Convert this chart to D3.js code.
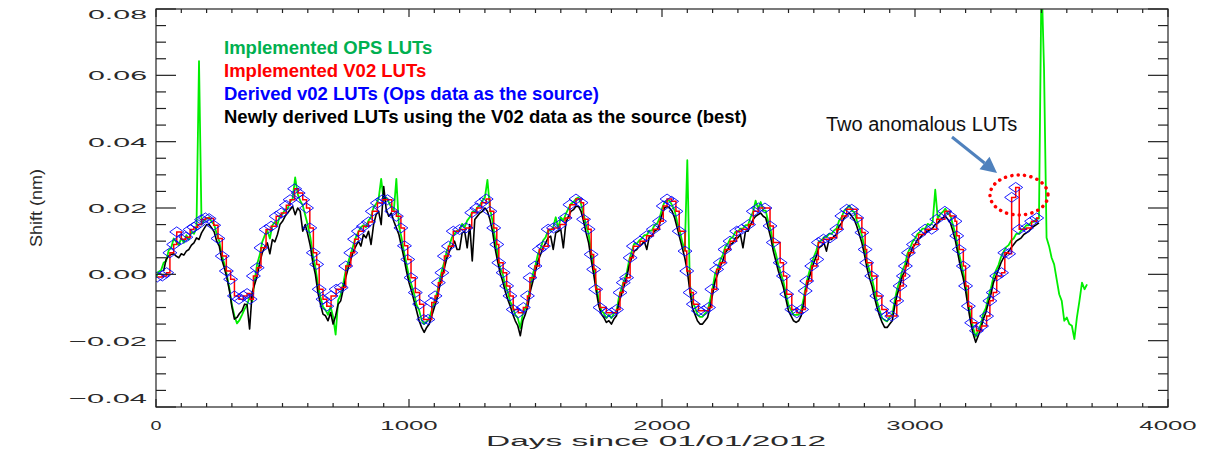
<!DOCTYPE html>
<html>
<head>
<meta charset="utf-8">
<script src="https://cdn.jsdelivr.net/npm/d3@7"></script>
<style>
  html, body { margin: 0; padding: 0; background: #fff; }
  svg { display: block; }
</style>
</head>
<body>
<svg id="chart" width="1214" height="453"></svg>
<script>
// ---- axis ticks ----
const yTickValues = [-0.04, -0.02, 0.00, 0.02, 0.04, 0.06, 0.08];
const yTickLabels = ["\u22120.04", "\u22120.02", "0.00", "0.02", "0.04", "0.06", "0.08"];
const xTickValues = [0, 1000, 2000, 3000, 4000];
const xTickLabels = ["0", "1000", "2000", "3000", "4000"];

// ---- legend entries ----
const seriesNames = [
  "Implemented OPS LUTs",
  "Implemented V02 LUTs",
  "Derived v02 LUTs (Ops data as the source)",
  "Newly derived LUTs using the V02 data as the source (best)"
];

// ---- derived v02 LUTs: day of each LUT and its wavelength shift (nm) ----
const lutDays = [
  5, 25, 42, 55, 70, 82, 100, 118, 135, 150,
  165, 180, 195, 210, 228, 245, 262, 278, 295, 310,
  328, 345, 360, 372, 385, 400, 415, 435, 455, 475,
  495, 515, 530, 548, 562, 580, 595, 608, 622, 635,
  645, 660, 675, 692, 712, 732, 750, 770, 785, 800,
  820, 840, 855, 875, 895, 915, 932, 950, 968, 982,
  995, 1008, 1025, 1042, 1058, 1075, 1090, 1103, 1116, 1130,
  1140, 1156, 1175, 1200, 1225, 1248, 1268, 1287, 1305, 1320,
  1335, 1347, 1355, 1372, 1386, 1399, 1412, 1432, 1452, 1468,
  1478, 1498, 1515, 1531, 1550, 1571, 1597, 1617, 1636, 1660,
  1680, 1690, 1708, 1720, 1730, 1738, 1755, 1780, 1800, 1820,
  1834, 1847, 1860, 1874, 1887, 1913, 1939, 1966, 1990, 2005,
  2020, 2038, 2055, 2068, 2091, 2098, 2111, 2124, 2144, 2164,
  2184, 2197, 2216, 2230, 2249, 2269, 2295, 2315, 2342, 2361,
  2381, 2407, 2427, 2440, 2467, 2480, 2493, 2513, 2533, 2552,
  2566, 2572, 2592, 2612, 2618, 2638, 2664, 2691, 2711, 2730,
  2750, 2770, 2790, 2803, 2809, 2829, 2849, 2869, 2888, 2908,
  2928, 2941, 2954, 2962, 2974, 2994, 3014, 3040, 3066, 3086,
  3118, 3138, 3158, 3165, 3175, 3191, 3200, 3211, 3224, 3243,
  3263, 3283, 3296, 3309, 3323, 3342, 3355, 3370, 3382, 3398,
  3412, 3441, 3461, 3481
];
const lutShift = [
  -0.0008, -0.0005, 0.0005, 0.0065, 0.0090, 0.0128, 0.0106, 0.0112, 0.0135, 0.0142,
  0.0150, 0.0165, 0.0170, 0.0168, 0.0148, 0.0108, 0.0055, 0.0010, -0.0015, -0.0065,
  -0.0075, -0.0065, -0.0058, -0.0075, -0.0005, 0.0020, 0.0080, 0.0135, 0.0145, 0.0175,
  0.0185, 0.0208, 0.0225, 0.0258, 0.0245, 0.0225, 0.0200, 0.0140, 0.0065, 0.0030,
  -0.0045, -0.0075, -0.0096, -0.0065, -0.0045, -0.0040, 0.0025, 0.0065, 0.0106, 0.0130,
  0.0145, 0.0158, 0.0190, 0.0215, 0.0225, 0.0225, 0.0190, 0.0175, 0.0140, 0.0086,
  0.0045, -0.0010, -0.0055, -0.0090, -0.0136, -0.0136, -0.0085, -0.0065, -0.0025, 0.0005,
  0.0055, 0.0085, 0.0130, 0.0135, 0.0140, 0.0186, 0.0200, 0.0216, 0.0227, 0.0190,
  0.0140, 0.0090, 0.0035, 0.0005, -0.0035, -0.0065, -0.0106, -0.0116, -0.0100, -0.0065,
  -0.0010, 0.0025, 0.0075, 0.0085, 0.0136, 0.0140, 0.0150, 0.0170, 0.0210, 0.0227,
  0.0216, 0.0166, 0.0136, 0.0060, 0.0015, -0.0045, -0.0100, -0.0116, -0.0116, -0.0106,
  -0.0055, -0.0025, -0.0010, 0.0050, 0.0085, 0.0100, 0.0116, 0.0136, 0.0160, 0.0206,
  0.0227, 0.0220, 0.0190, 0.0130, 0.0070, 0.0010, -0.0055, -0.0090, -0.0110, -0.0110,
  -0.0100, -0.0045, 0.0015, 0.0035, 0.0075, 0.0100, 0.0130, 0.0136, 0.0150, 0.0190,
  0.0200, 0.0200, 0.0146, 0.0096, 0.0035, -0.0005, -0.0060, -0.0106, -0.0116, -0.0106,
  -0.0050, -0.0020, 0.0025, 0.0045, 0.0096, 0.0106, 0.0110, 0.0136, 0.0176, 0.0196,
  0.0196, 0.0170, 0.0126, 0.0075, 0.0035, -0.0005, -0.0065, -0.0106, -0.0126, -0.0126,
  -0.0080, -0.0035, -0.0005, 0.0025, 0.0065, 0.0090, 0.0120, 0.0136, 0.0136, 0.0166,
  0.0190, 0.0176, 0.0160, 0.0116, 0.0075, 0.0025, -0.0035, -0.0096, -0.0146, -0.0170,
  -0.0156, -0.0126, -0.0080, -0.0055, -0.0005, 0.0005, 0.0065, 0.0062, 0.0232, 0.0262,
  0.0136, 0.0140, 0.0160, 0.0170
];
// last day the implemented V02 LUT stays in use
const v02LastDay = 3490;

// ---- implemented OPS LUTs, sampled every 10 days from day 0 ----
const opsFirstDay = 0;
const opsShift = [
  -0.0010, 0.0008, 0.0012, 0.0035, 0.0040, 0.0072, 0.0080, 0.0108, 0.0098, 0.0088,
  0.0110, 0.0095, 0.0118, 0.0105, 0.0128, 0.0122, 0.0140, 0.0643, 0.0150, 0.0162,
  0.0168, 0.0172, 0.0158, 0.0150, 0.0122, 0.0100, 0.0058, 0.0032, -0.0002, -0.0042,
  -0.0092, -0.0125, -0.0148, -0.0138, -0.0122, -0.0105, -0.0092, -0.0068, -0.0082, -0.0018,
  0.0032, 0.0058, 0.0098, 0.0118, 0.0132, 0.0108, 0.0148, 0.0158, 0.0150, 0.0178,
  0.0182, 0.0195, 0.0198, 0.0218, 0.0228, 0.0292, 0.0242, 0.0222, 0.0208, 0.0178,
  0.0148, 0.0112, 0.0058, 0.0022, -0.0032, -0.0068, -0.0098, -0.0108, -0.0122, -0.0098,
  -0.0128, -0.0182, -0.0078, -0.0062, -0.0028, 0.0012, 0.0038, 0.0062, 0.0088, 0.0112,
  0.0128, 0.0142, 0.0148, 0.0142, 0.0162, 0.0172, 0.0202, 0.0212, 0.0228, 0.0288,
  0.0222, 0.0232, 0.0218, 0.0202, 0.0192, 0.0288, 0.0148, 0.0112, 0.0068, 0.0032,
  -0.0008, -0.0032, -0.0058, -0.0092, -0.0108, -0.0138, -0.0150, -0.0142, -0.0132, -0.0108,
  -0.0082, -0.0058, -0.0022, 0.0012, 0.0038, 0.0072, 0.0088, 0.0112, 0.0122, 0.0132,
  0.0132, 0.0152, 0.0142, 0.0162, 0.0172, 0.0188, 0.0188, 0.0202, 0.0208, 0.0222,
  0.0232, 0.0285, 0.0198, 0.0162, 0.0108, 0.0062, 0.0018, 0.0002, -0.0032, -0.0052,
  -0.0082, -0.0098, -0.0122, -0.0132, -0.0162, -0.0118, -0.0102, -0.0078, -0.0032, 0.0002,
  0.0028, 0.0062, 0.0078, 0.0102, 0.0112, 0.0132, 0.0132, 0.0142, 0.0172, 0.0138,
  0.0172, 0.0162, 0.0182, 0.0198, 0.0212, 0.0218, 0.0228, 0.0232, 0.0212, 0.0182,
  0.0148, 0.0122, 0.0068, 0.0022, -0.0032, -0.0078, -0.0108, -0.0118, -0.0132, -0.0122,
  -0.0132, -0.0118, -0.0112, -0.0068, -0.0042, -0.0018, 0.0002, 0.0042, 0.0068, 0.0092,
  0.0092, 0.0102, 0.0108, 0.0118, 0.0118, 0.0132, 0.0132, 0.0148, 0.0152, 0.0168,
  0.0198, 0.0218, 0.0222, 0.0222, 0.0208, 0.0192, 0.0158, 0.0132, 0.0098, 0.0072,
  0.0344, -0.0028, -0.0082, -0.0098, -0.0122, -0.0128, -0.0128, -0.0118, -0.0112, -0.0078,
  -0.0042, 0.0002, 0.0018, 0.0042, 0.0058, 0.0082, 0.0092, 0.0108, 0.0112, 0.0128,
  0.0128, 0.0138, 0.0138, 0.0148, 0.0148, 0.0172, 0.0188, 0.0222, 0.0198, 0.0218,
  0.0192, 0.0192, 0.0158, 0.0132, 0.0088, 0.0062, 0.0028, 0.0002, -0.0022, -0.0058,
  -0.0092, -0.0108, -0.0122, -0.0122, -0.0122, -0.0108, -0.0072, -0.0028, 0.0002, 0.0028,
  0.0052, 0.0072, 0.0098, 0.0102, 0.0112, 0.0112, 0.0122, 0.0122, 0.0132, 0.0138,
  0.0162, 0.0172, 0.0192, 0.0198, 0.0208, 0.0192, 0.0188, 0.0162, 0.0142, 0.0118,
  0.0082, 0.0038, 0.0012, -0.0012, -0.0048, -0.0082, -0.0108, -0.0132, -0.0138, -0.0142,
  -0.0128, -0.0122, -0.0078, -0.0042, -0.0018, 0.0012, 0.0028, 0.0062, 0.0078, 0.0098,
  0.0108, 0.0122, 0.0128, 0.0138, 0.0138, 0.0152, 0.0148, 0.0158, 0.0255, 0.0168,
  0.0182, 0.0188, 0.0198, 0.0182, 0.0178, 0.0148, 0.0122, 0.0078, 0.0042, 0.0008,
  -0.0032, -0.0082, -0.0128, -0.0162, -0.0188, -0.0168, -0.0152, -0.0118, -0.0102, -0.0068,
  -0.0042, -0.0008, 0.0012, 0.0028, 0.0052, 0.0068, 0.0082, 0.0088, 0.0102, 0.0108,
  0.0122, 0.0122, 0.0132, 0.0138, 0.0148, 0.0148, 0.0158, 0.0158, 0.0168, 0.0168,
  0.0900, 0.0620, 0.0110, 0.0085, 0.0050, 0.0030, -0.0015, -0.0060, -0.0080, -0.0140,
  -0.0130, -0.0150, -0.0155, -0.0195, -0.0130, -0.0080, -0.0025, -0.0045, -0.0030
];

// ---- newly derived LUTs (V02 source), sampled every 10 days from day 30 ----
const newFirstDay = 30;
const newShift = [
  0.0010, 0.0045, 0.0055, 0.0060, 0.0062, 0.0055, 0.0050,
  0.0062, 0.0058, 0.0070, 0.0075, 0.0088, 0.0095, 0.0110, 0.0105, 0.0125, 0.0138,
  0.0150, 0.0150, 0.0140, 0.0128, 0.0100, 0.0085, 0.0045, 0.0020, -0.0010, -0.0048,
  -0.0098, -0.0135, -0.0130, -0.0118, -0.0110, -0.0090, -0.0092, -0.0165, -0.0055, -0.0030,
  -0.0005, 0.0035, 0.0065, 0.0082, 0.0095, 0.0062, 0.0105, 0.0098, 0.0120, 0.0150,
  0.0160, 0.0175, 0.0185, 0.0195, 0.0205, 0.0180, 0.0200, 0.0190, 0.0130, 0.0150,
  0.0120, 0.0085, 0.0035, 0.0000, -0.0055, -0.0090, -0.0120, -0.0125, -0.0140, -0.0115,
  -0.0150, -0.0125, -0.0090, -0.0080, -0.0045, -0.0010, 0.0020, 0.0045, 0.0070, 0.0085,
  0.0100, 0.0085, 0.0120, 0.0110, 0.0130, 0.0090, 0.0150, 0.0180, 0.0190, 0.0150,
  0.0265, 0.0195, 0.0175, 0.0185, 0.0160, 0.0140, 0.0120, 0.0085, 0.0050, 0.0010,
  -0.0025, -0.0050, -0.0080, -0.0110, -0.0140, -0.0160, -0.0175, -0.0160, -0.0150, -0.0125,
  -0.0100, -0.0075, -0.0040, -0.0010, 0.0020, 0.0050, 0.0070, 0.0085, 0.0100, 0.0075,
  0.0075, 0.0125, 0.0130, 0.0080, 0.0150, 0.0040, 0.0165, 0.0175, 0.0185, 0.0190,
  0.0200, 0.0190, 0.0165, 0.0130, 0.0080, 0.0040, 0.0005, -0.0020, -0.0050, -0.0075,
  -0.0095, -0.0120, -0.0140, -0.0155, -0.0185, -0.0140, -0.0120, -0.0095, -0.0050, -0.0020,
  0.0010, 0.0040, 0.0060, 0.0080, 0.0095, 0.0110, 0.0115, 0.0075, 0.0125, 0.0130,
  0.0135, 0.0080, 0.0155, 0.0175, 0.0190, 0.0195, 0.0205, 0.0205, 0.0190, 0.0160,
  0.0125, 0.0095, 0.0045, 0.0000, -0.0050, -0.0095, -0.0120, -0.0130, -0.0145, -0.0140,
  -0.0150, -0.0135, -0.0125, -0.0085, -0.0060, -0.0035, -0.0010, 0.0025, 0.0050, 0.0070,
  0.0075, 0.0085, 0.0090, 0.0100, 0.0075, 0.0115, 0.0115, 0.0130, 0.0135, 0.0150,
  0.0180, 0.0200, 0.0205, 0.0200, 0.0190, 0.0170, 0.0140, 0.0110, 0.0080, 0.0050,
  0.0010, -0.0050, -0.0100, -0.0120, -0.0140, -0.0150, -0.0150, -0.0140, -0.0130, -0.0100,
  -0.0060, -0.0020, 0.0000, 0.0025, 0.0040, 0.0065, 0.0075, 0.0090, 0.0095, 0.0110,
  0.0110, 0.0120, 0.0080, 0.0130, 0.0130, 0.0150, 0.0165, 0.0175, 0.0180, 0.0185,
  0.0175, 0.0170, 0.0140, 0.0110, 0.0070, 0.0040, 0.0010, -0.0015, -0.0040, -0.0075,
  -0.0110, -0.0125, -0.0140, -0.0145, -0.0140, -0.0125, -0.0090, -0.0045, -0.0015, 0.0010,
  0.0035, 0.0055, 0.0080, 0.0085, 0.0095, 0.0070, 0.0105, 0.0105, 0.0115, 0.0120,
  0.0145, 0.0155, 0.0170, 0.0180, 0.0185, 0.0175, 0.0165, 0.0145, 0.0120, 0.0095,
  0.0060, 0.0020, -0.0010, -0.0035, -0.0070, -0.0100, -0.0125, -0.0145, -0.0160, -0.0160,
  -0.0150, -0.0140, -0.0095, -0.0060, -0.0035, -0.0005, 0.0010, 0.0040, 0.0060, 0.0080,
  0.0090, 0.0105, 0.0110, 0.0120, 0.0125, 0.0130, 0.0135, 0.0140, 0.0150, 0.0155,
  0.0165, 0.0170, 0.0175, 0.0165, 0.0155, 0.0130, 0.0100, 0.0060, 0.0020, -0.0010,
  -0.0050, -0.0100, -0.0145, -0.0180, -0.0205, -0.0185, -0.0165, -0.0135, -0.0115, -0.0085,
  -0.0060, -0.0025, -0.0005, 0.0015, 0.0035, 0.0050, 0.0060, 0.0070, 0.0080, 0.0090,
  0.0100, 0.0105, 0.0110, 0.0120, 0.0125, 0.0130, 0.0140, 0.0145, 0.0150, 0.0155
];
const sampleStep = 10;

// ---- layout ----
const plot = { left: 156, right: 1168, top: 9, bottom: 407 };

const svg = d3.select("#chart");
const x = d3.scaleLinear().domain([0, 4000]).range([plot.left, plot.right]);
const y = d3.scaleLinear().domain([-0.04, 0.08]).range([plot.bottom, plot.top]);

const tickFont = "'Liberation Sans', Arial, sans-serif";
const tickColor = "#2a2a2a";
const axisColor = "#222";

svg.append("defs").append("clipPath").attr("id", "plotClip")
  .append("rect")
  .attr("x", plot.left).attr("y", plot.top)
  .attr("width", plot.right - plot.left).attr("height", plot.bottom - plot.top);

// ---- data layers ----
const data = svg.append("g").attr("clip-path", "url(#plotClip)");

const opsPts = opsShift.map((v, i) => [opsFirstDay + i * sampleStep, v]);
const newPts = newShift.map((v, i) => [newFirstDay + i * sampleStep, v]);
const lutPts = lutDays.map((d, i) => [d, lutShift[i]]);

const line = d3.line().x(d => x(d[0])).y(d => y(d[1]));

data.append("path").datum(opsPts)
  .attr("d", line).attr("fill", "none")
  .attr("stroke", "#00ee00").attr("stroke-width", 1.8).attr("stroke-linejoin", "round");

data.append("path").datum(newPts)
  .attr("d", line).attr("fill", "none")
  .attr("stroke", "#000").attr("stroke-width", 1.6).attr("stroke-linejoin", "round");

const stepLine = d3.line().curve(d3.curveStepAfter).x(d => x(d[0])).y(d => y(d[1]));
data.append("path").datum(lutPts.concat([[v02LastDay, lutShift[lutShift.length - 1]]]))
  .attr("d", stepLine).attr("fill", "none")
  .attr("stroke", "#ff0000").attr("stroke-width", 1.5);

data.append("g").selectAll("path").data(lutPts).join("path")
  .attr("transform", d => `translate(${x(d[0])},${y(d[1])})`)
  .attr("d", "M0,-5L7,0L0,5L-7,0Z")
  .attr("fill", "none").attr("stroke", "#0000ff").attr("stroke-width", 0.9);

// ---- frame and ticks (box axes with inward ticks on every side) ----
const axes = svg.append("g").attr("stroke", axisColor).attr("stroke-width", 1.2);
axes.append("rect")
  .attr("x", plot.left).attr("y", plot.top)
  .attr("width", plot.right - plot.left).attr("height", plot.bottom - plot.top)
  .attr("fill", "none");

const yMinor = d3.range(-0.04, 0.0801, 0.005);
const xMinor = d3.range(0, 4001, 100);
const isMajorY = v => Math.abs(Math.round(v / 0.02) * 0.02 - v) < 1e-9;
const isMajorX = v => v % 1000 === 0;

yMinor.forEach(v => {
  const len = isMajorY(v) ? 20 : 10;
  const yy = y(v);
  axes.append("line").attr("x1", plot.left).attr("x2", plot.left + len).attr("y1", yy).attr("y2", yy);
  axes.append("line").attr("x1", plot.right).attr("x2", plot.right - len).attr("y1", yy).attr("y2", yy);
});
xMinor.forEach(v => {
  const len = isMajorX(v) ? 8 : 4;
  const xx = x(v);
  axes.append("line").attr("x1", xx).attr("x2", xx).attr("y1", plot.bottom).attr("y2", plot.bottom - len);
  axes.append("line").attr("x1", xx).attr("x2", xx).attr("y1", plot.top).attr("y2", plot.top + len);
});

// tick labels: wide, thin lettering
const charW = 14.6;
svg.append("g").selectAll("text").data(yTickValues).join("text")
  .attr("x", 147)
  .attr("y", d => Math.min(Math.max(y(d), 14.5), 398))
  .attr("dy", "0.36em")
  .attr("text-anchor", "end")
  .attr("font-family", tickFont).attr("font-size", 13.5).attr("fill", tickColor)
  .attr("textLength", (d, i) => yTickLabels[i].length === 5 ? 78 : 59)
  .attr("lengthAdjust", "spacingAndGlyphs")
  .text((d, i) => yTickLabels[i]);

svg.append("g").selectAll("text").data(xTickValues).join("text")
  .attr("x", d => x(d))
  .attr("y", 425)
  .attr("dy", "0.36em")
  .attr("text-anchor", "middle")
  .attr("font-family", tickFont).attr("font-size", 13.5).attr("fill", tickColor)
  .attr("textLength", (d, i) => xTickLabels[i].length === 1 ? 11 : xTickLabels[i].length * charW - 1)
  .attr("lengthAdjust", "spacingAndGlyphs")
  .text((d, i) => xTickLabels[i]);

svg.append("text")
  .attr("x", 656).attr("y", 441).attr("dy", "0.36em")
  .attr("text-anchor", "middle")
  .attr("font-family", tickFont).attr("font-size", 14).attr("fill", tickColor)
  .attr("textLength", 340).attr("lengthAdjust", "spacingAndGlyphs")
  .text("Days since 01/01/2012");

svg.append("text")
  .attr("transform", "translate(36,208) rotate(-90)")
  .attr("dy", "0.36em")
  .attr("text-anchor", "middle")
  .attr("font-family", tickFont).attr("font-size", 16).attr("fill", tickColor)
  .attr("textLength", 78).attr("lengthAdjust", "spacingAndGlyphs")
  .text("Shift (nm)");

// ---- legend ----
const legendColors = ["#00b050", "#ff0000", "#0000ff", "#000000"];
svg.append("g").selectAll("text").data(seriesNames).join("text")
  .attr("x", 224)
  .attr("y", (d, i) => 54 + i * 23)
  .attr("font-family", "'Liberation Sans', Arial, sans-serif")
  .attr("font-weight", "bold").attr("font-size", 18.5)
  .attr("fill", (d, i) => legendColors[i])
  .text(d => d);

// ---- annotation of the two anomalous LUTs ----
svg.append("text")
  .attr("x", 826).attr("y", 131)
  .attr("font-family", "'Liberation Sans', Arial, sans-serif")
  .attr("font-size", 20).attr("fill", "#111")
  .text("Two anomalous LUTs");

const arrowStart = [952, 137], arrowTip = [997, 173];
const ux = arrowTip[0] - arrowStart[0], uy = arrowTip[1] - arrowStart[1];
const ul = Math.hypot(ux, uy);
const dx = ux / ul, dy = uy / ul;
const headLen = 16, headHalf = 8;
const base = [arrowTip[0] - dx * headLen, arrowTip[1] - dy * headLen];
svg.append("line")
  .attr("x1", arrowStart[0]).attr("y1", arrowStart[1])
  .attr("x2", base[0]).attr("y2", base[1])
  .attr("stroke", "#4f81bd").attr("stroke-width", 3);
svg.append("path")
  .attr("d", `M${arrowTip[0]},${arrowTip[1]}L${base[0] - dy * headHalf},${base[1] + dx * headHalf}L${base[0] + dy * headHalf},${base[1] - dx * headHalf}Z`)
  .attr("fill", "#4f81bd");

svg.append("ellipse")
  .attr("cx", 1019).attr("cy", 195).attr("rx", 29).attr("ry", 20)
  .attr("fill", "none").attr("stroke", "#ff0000").attr("stroke-width", 3.5)
  .attr("stroke-dasharray", "0.1 6.3").attr("stroke-linecap", "round");
</script>
</body>
</html>
